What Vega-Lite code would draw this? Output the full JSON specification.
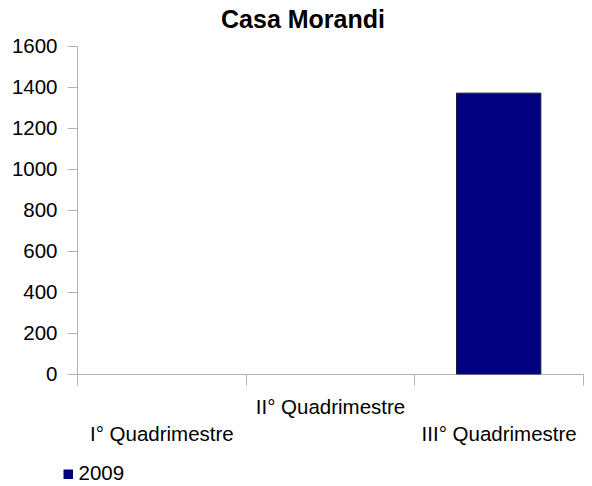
{
  "$schema": "https://vega.github.io/schema/vega-lite/v6.json",
  "width": 506,
  "height": 328,
  "autosize": {"type": "none"},
  "padding": {"left": 77, "top": 46, "right": 9, "bottom": 112},
  "background": "white",
  "title": {
    "text": "Casa Morandi",
    "font": "Liberation Sans",
    "fontSize": 25,
    "fontWeight": "bold",
    "color": "#000000",
    "anchor": "middle",
    "frame": "group",
    "dx": -27,
    "baseline": "bottom",
    "offset": -22
  },
  "config": {
    "view": {"stroke": null},
    "font": "Liberation Sans"
  },
  "data": {
    "values": [
      {"quadrimestre": "I° Quadrimestre", "anno": "2009", "valore": null},
      {"quadrimestre": "II° Quadrimestre", "anno": "2009", "valore": null},
      {"quadrimestre": "III° Quadrimestre", "anno": "2009", "valore": 1370}
    ]
  },
  "mark": {"type": "bar", "width": {"band": 0.5}, "stroke": "#1a1a3a", "strokeWidth": 1},
  "encoding": {
    "x": {
      "field": "quadrimestre",
      "type": "nominal",
      "sort": null,
      "scale": {
        "domain": ["I° Quadrimestre", "II° Quadrimestre", "III° Quadrimestre"],
        "paddingInner": 0,
        "paddingOuter": 0
      },
      "axis": {
        "title": null,
        "labelAngle": 0,
        "tickBand": "extent",
        "tickSize": 11,
        "tickColor": "#b3b3b3",
        "domainColor": "#b3b3b3",
        "labelFont": "Liberation Sans",
        "labelFontSize": 20.5,
        "labelColor": "#000000",
        "labelBaseline": "alphabetic",
        "labelPadding": {"condition": {"test": "datum.value == 'II° Quadrimestre'", "value": 28}, "value": 55},
        "labelOverlap": false,
        "labelLimit": 0
      }
    },
    "y": {
      "field": "valore",
      "type": "quantitative",
      "scale": {"domain": [0, 1600], "nice": false, "zero": true},
      "axis": {
        "title": null,
        "format": "d",
        "values": [0, 200, 400, 600, 800, 1000, 1200, 1400, 1600],
        "grid": false,
        "tickSize": 10,
        "tickColor": "#b3b3b3",
        "domainColor": "#b3b3b3",
        "labelFont": "Liberation Sans",
        "labelFontSize": 20.5,
        "labelColor": "#000000",
        "labelPadding": 10
      }
    },
    "color": {
      "field": "anno",
      "type": "nominal",
      "scale": {"range": ["#000080"]},
      "legend": {
        "title": null,
        "orient": "none",
        "legendX": -19,
        "legendY": 418,
        "symbolType": "square",
        "symbolSize": 90,
        "symbolStrokeWidth": 0,
        "labelFont": "Liberation Sans",
        "labelFontSize": 20.5,
        "labelColor": "#000000",
        "labelOffset": 0
      }
    }
  }
}
